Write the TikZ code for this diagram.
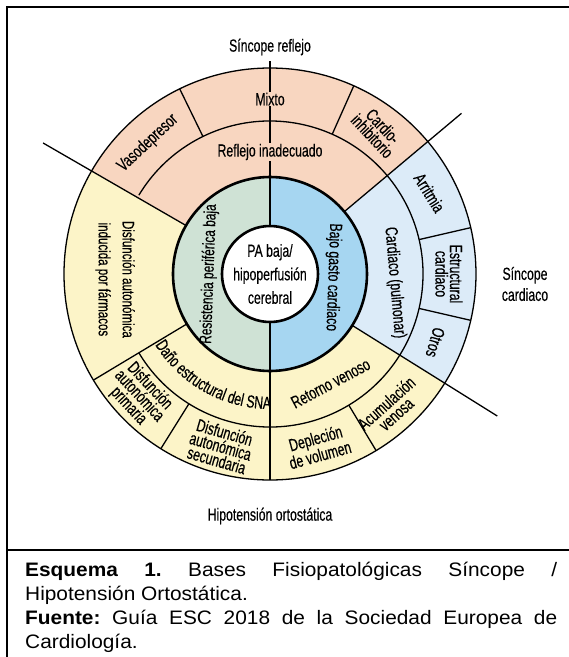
\documentclass[tikz,border=0pt]{standalone}
\usepackage{fontspec}
\usepackage{tikz}
\usetikzlibrary{decorations.text}
\setmainfont{Liberation Sans}
\newfontfamily\condfont[FakeStretch=0.7,FakeBold=0.3]{Liberation Sans}
\newfontfamily\capfont[FakeStretch=1.07]{Liberation Sans}

\definecolor{reflejo}{HTML}{F8D6C0}
\definecolor{ortost}{HTML}{FCF4C8}
\definecolor{cardio}{HTML}{DCEBF8}
\definecolor{gasto}{HTML}{A6D6F1}
\definecolor{resist}{HTML}{CFE2D5}

\newcommand{\ringpart}[5]{%
  \fill[#5] (#3:#1) arc[start angle=#3, end angle=#4, radius=#1]
    -- (#4:#2) arc[start angle=#4, end angle=#3, radius=#2] -- cycle;}

\begin{document}
\begin{tikzpicture}[x=1pt, y=1pt,
  lbl/.style={font=\condfont\fontsize{17.5}{21}\selectfont, align=center, inner sep=1pt},
  tight/.style={lbl, font=\condfont\fontsize{17.5}{14.5}\selectfont},
  capline/.style={anchor=base west, inner sep=0pt, font=\capfont\fontsize{19.5}{24}\selectfont},
  sep/.style={line width=1.3pt},
  bold/.style={line width=2.6pt}]
  \useasboundingbox (-270,-383) rectangle (299,274);
  \fill[white] (-270,-383) rectangle (299,274);

  \draw[bold] (-263,-400) -- (-263,267) -- (320,267);
  \draw[bold] (-263,-276) -- (320,-276);

  \ringpart{48pt}{97pt}{90}{270}{resist}
  \ringpart{48pt}{97pt}{-90}{90}{gasto}
  \ringpart{97pt}{206pt}{40}{150}{reflejo}
  \ringpart{97pt}{206pt}{-32}{40}{cardio}
  \ringpart{97pt}{206pt}{150}{328}{ortost}

  \draw[sep] (0,0) circle[radius=206pt];
  \draw[sep] (211:153pt) arc[start angle=211, end angle=509, radius=153pt];
  \foreach \a/\ra/\rb in {150/97/262, 40/97/250, -32/97/268, 211/97/206,
                          116/153/206, 66/153/206, 13/153/206, -13/153/206,
                          238/153/206, 301/153/206}
    \draw[sep] (\a:\ra pt) -- (\a:\rb pt);
  \draw[line width=2pt] (90:213pt) -- (270:206pt);
  \draw[bold] (0,0) circle[radius=97pt];
  \draw[bold, fill=white] (0,0) circle[radius=48pt];

  \node at (0,227) [lbl] (sreflejo) {Síncope reflejo};
  \node at (255,-10) [lbl] (scardiaco) {Síncope\\cardiaco};
  \node at (0,-242) [lbl] (hipotension) {Hipotensión ortostática};

  \node at (0,0) [lbl, font=\condfont\fontsize{17.5}{23.5}\selectfont] (pabaja) {PA baja/\\hipoperfusión\\cerebral};
  \node at (180:61pt) [lbl, rotate=88, font=\condfont\fontsize{17}{21}\selectfont] (resistencia) {Resistencia periférica baja};
  \node at (-3:63pt) [lbl, rotate=-92] (bajogasto) {Bajo gasto cardiaco};

  \node at (90:175pt) [lbl, fill=reflejo] (mixto) {Mixto};
  \node at (90:122pt) [lbl, fill=reflejo] (inadecuado) {Reflejo inadecuado};
  \node at (133:179pt) [lbl, rotate=43] (vasodepresor) {Vasodepresor};
  \node at (53:179pt) [tight, rotate=-47] (cardioinhib) {Cardio-\\inhibitorio};

  \node at (-4:125pt) [lbl, rotate=-85] (pulmonar) {Cardiaco (pulmonar)};
  \node at (27:179pt) [lbl, rotate=-58] (arritmia) {Arritmia};
  \node at (0:179pt) [tight, rotate=-90] (estructural) {Estructural\\cardiaco};
  \node at (-22.5:179pt) [lbl, rotate=-106] (otros) {Otros};

  \node at (182:155pt) [lbl, rotate=-90, font=\condfont\fontsize{16.5}{24}\selectfont] (farmacos) {Disfunción autonómica\\inducida por fármacos};
  \path[decorate, decoration={text along path, text align=center,
      text={|\condfont\fontsize{17.5}{21}\selectfont|Daño estructural del SNA}}]
    (213:135pt) arc[start angle=213, end angle=269, radius=135pt];
  \node at (299:125pt) [lbl, rotate=28] (retorno) {Retorno venoso};
  \node at (223:179pt) [tight, rotate=-47] (primaria) {Disfunción\\autonómica\\primaria};
  \node at (254:179pt) [tight, rotate=-16] (secundaria) {Disfunción\\autonómica\\secundaria};
  \node at (285.5:179pt) [tight, rotate=15.5] (deplecion) {Depleción\\de volumen};
  \node at (312:181pt) [tight, rotate=42] (acumulacion) {Acumulación\\venosa};

  \frenchspacing
  \node at (-245,-302) [capline] (cap1) {\makebox[532pt][s]{\textbf{Esquema 1.} Bases Fisiopatológicas Síncope /}};
  \node at (-245,-326) [capline] (cap2) {Hipotensión Ortostática.};
  \node at (-245,-350) [capline] (cap3) {\makebox[532pt][s]{\textbf{Fuente:} Guía ESC 2018 de la Sociedad Europea de}};
  \node at (-245,-374) [capline] (cap4) {Cardiología.};
\end{tikzpicture}
\end{document}
